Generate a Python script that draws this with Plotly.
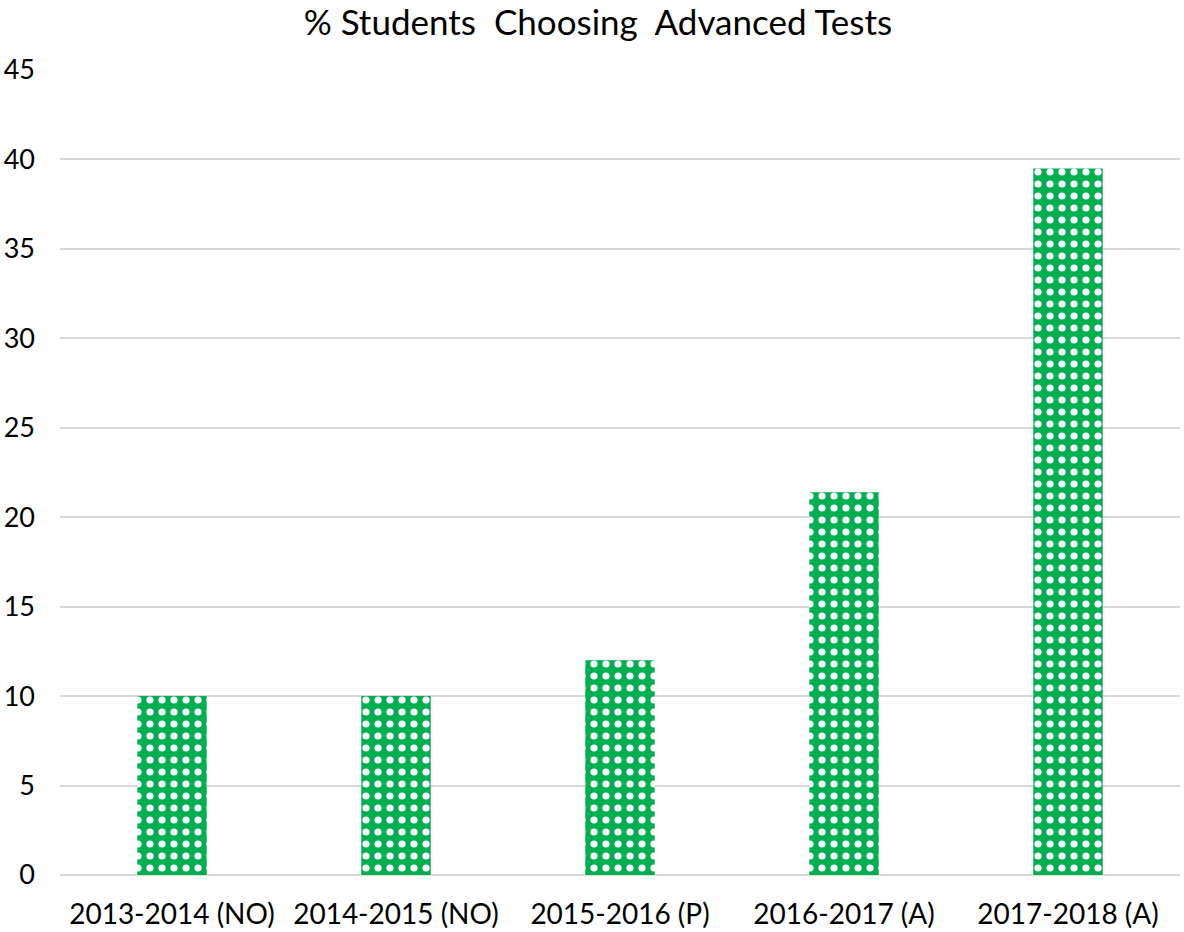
import plotly.graph_objects as go

years = ["2013-2014 (NO)", "2014-2015 (NO)", "2015-2016 (P)", "2016-2017 (A)", "2017-2018 (A)"]
pct_advanced = [10, 10, 12, 21.4, 39.5]
y_ticks = [0, 5, 10, 15, 20, 25, 30, 35, 40, 45]


fig = go.Figure(
    go.Bar(
        x=years,
        y=pct_advanced,
        width=0.31,
        marker=dict(
            color="#00B050",
            line=dict(width=0),
            pattern=dict(
                shape=".",
                fillmode="replace",
                bgcolor="#00B050",
                fgcolor="white",
                size=12,
                solidity=0.28
            )
        )
    )
)


fig.update_layout(
    title=dict(
        text="% Students  Choosing  Advanced Tests",
        x=0.505,
        xanchor="center",
        yref="container",
        y=0.976,
        yanchor="middle",
        font=dict(family="Lato", size=35, color="black")
    ),
    width=1184,
    height=932,
    margin=dict(l=60, r=4, t=70, b=57),
    plot_bgcolor="white",
    paper_bgcolor="white",
    showlegend=False,
    font=dict(family="Lato", size=27, color="black"),
    xaxis=dict(
        showgrid=False,
        showline=False,
        ticks="",
        automargin=False,
        ticklabelstandoff=20,
        tickfont=dict(family="Lato", size=28, color="black")
    ),
    yaxis=dict(
        range=[0, 45],
        tickvals=y_ticks,
        showgrid=True,
        gridcolor="#d9d9d9",
        gridwidth=2,
        zeroline=True,
        zerolinecolor="#d9d9d9",
        zerolinewidth=2,
        ticks="",
        automargin=False,
        ticklabelstandoff=24,
        tickfont=dict(family="Lato", size=27, color="black")
    ),
    bargap=0.69
)


# drop the default 8px body margin so the figure fills the window
fig.write_html(
    "out.html",
    config={"displayModeBar": False},
    post_script="document.body.style.margin='0';"
)
